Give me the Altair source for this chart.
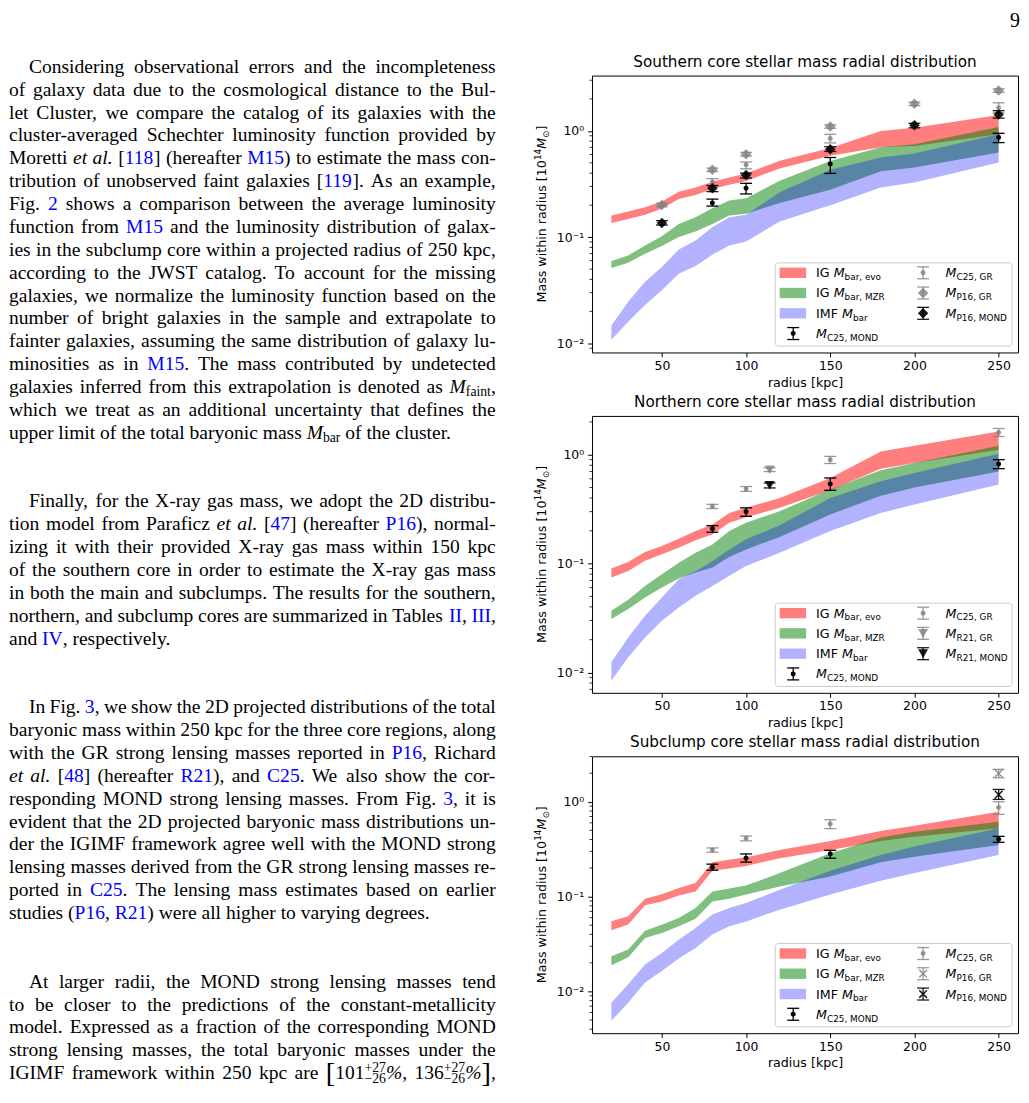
import re
import altair as alt
import pandas as pd

# ---------------- data ----------------
R = [20, 30, 40, 50, 60, 70, 80, 90, 100, 120, 150, 180, 200, 250]

# Southern core bands (10^14 Msun)
S_evo_hi = [0.160, 0.174, 0.191, 0.216, 0.268, 0.294, 0.333, 0.365, 0.398, 0.524, 0.69, 1.00, 1.07, 1.41]
S_evo_lo = [0.136, 0.148, 0.162, 0.185, 0.229, 0.249, 0.284, 0.312, 0.337, 0.443, 0.585, 0.70, 0.72, 0.93]
S_mzr_hi = [0.0596, 0.0673, 0.0835, 0.102, 0.133, 0.154, 0.187, 0.221, 0.232, 0.340, 0.52, 0.70, 0.75, 1.09]
S_mzr_lo = [0.0512, 0.0575, 0.0698, 0.0824, 0.100, 0.113, 0.133, 0.160, 0.166, 0.21, 0.28, 0.416, 0.453, 0.626]
S_imf_hi = [0.0147, 0.0246, 0.0379, 0.0524, 0.0766, 0.093, 0.124, 0.154, 0.162, 0.264, 0.43, 0.562, 0.612, 0.93]
S_imf_lo = [0.0108, 0.016, 0.0229, 0.0316, 0.0453, 0.0535, 0.0683, 0.0835, 0.091, 0.140, 0.20, 0.294, 0.327, 0.505]

S_c25m_x = [80, 100, 150, 250]
S_c25m_y = [0.21, 0.288, 0.487, 0.865]
S_c25m_lo = [0.196, 0.255, 0.398, 0.776]
S_c25m_hi = [0.228, 0.321, 0.562, 0.95]
S_c25g_x = [80, 100, 150, 250]
S_c25g_y = [0.33, 0.48, 0.847, 1.65]
S_c25g_lo = [0.31, 0.44, 0.77, 1.48]
S_c25g_hi = [0.355, 0.51, 0.93, 1.84]
S_p16g_x = [50, 80, 100, 150, 200, 250]
S_p16g_y = [0.201, 0.431, 0.604, 1.10, 1.80, 2.40]
S_p16g_lo = [0.193, 0.415, 0.58, 1.06, 1.73, 2.31]
S_p16g_hi = [0.209, 0.447, 0.628, 1.14, 1.87, 2.49]
S_p16m_x = [50, 80, 100, 150, 200, 250]
S_p16m_y = [0.136, 0.288, 0.384, 0.673, 1.13, 1.43]
S_p16m_lo = [0.13, 0.268, 0.36, 0.64, 1.07, 1.32]
S_p16m_hi = [0.143, 0.305, 0.40, 0.71, 1.18, 1.55]

# Northern core
N_evo_hi = [0.0899, 0.1035, 0.128, 0.145, 0.169, 0.199, 0.229, 0.292, 0.325, 0.401, 0.611, 1.07, 1.21, 1.63]
N_evo_lo = [0.0744, 0.0856, 0.106, 0.122, 0.140, 0.164, 0.185, 0.237, 0.267, 0.325, 0.471, 0.744, 0.839, 1.11]
N_mzr_hi = [0.0369, 0.0465, 0.0624, 0.0798, 0.102, 0.126, 0.150, 0.199, 0.237, 0.303, 0.48, 0.718, 0.839, 1.21]
N_mzr_lo = [0.0309, 0.0382, 0.0488, 0.0603, 0.073, 0.083, 0.092, 0.115, 0.135, 0.175, 0.283, 0.42, 0.50, 0.70]
N_imf_hi = [0.0124, 0.021, 0.0332, 0.0488, 0.0718, 0.085, 0.105, 0.135, 0.167, 0.225, 0.40, 0.57, 0.68, 1.02]
N_imf_lo = [0.0084, 0.0138, 0.021, 0.0299, 0.0395, 0.0506, 0.0624, 0.0771, 0.095, 0.126, 0.199, 0.292, 0.349, 0.531]

N_c25m_x = [80, 100, 150, 250]
N_c25m_y = [0.209, 0.299, 0.539, 0.822]
N_c25m_lo = [0.194, 0.272, 0.471, 0.744]
N_c25m_hi = [0.223, 0.325, 0.611, 0.90]
N_c25g_x = [80, 100, 150, 250]
N_c25g_y = [0.336, 0.485, 0.90, 1.60]
N_c25g_lo = [0.32, 0.46, 0.83, 1.47]
N_c25g_hi = [0.35, 0.51, 0.965, 1.74]
N_r21g_x = [114]
N_r21g_y = [0.728]
N_r21g_lo = [0.70]
N_r21g_hi = [0.76]
N_r21m_x = [114]
N_r21m_y = [0.524]
N_r21m_lo = [0.495]
N_r21m_hi = [0.55]

# Subclump core
C_evo_hi = [0.055, 0.062, 0.095, 0.106, 0.123, 0.139, 0.231, 0.245, 0.26, 0.31, 0.386, 0.492, 0.56, 0.785]
C_evo_lo = [0.0442, 0.0507, 0.081, 0.089, 0.103, 0.1135, 0.187, 0.198, 0.211, 0.254, 0.31, 0.386, 0.429, 0.525]
C_mzr_hi = [0.0235, 0.0277, 0.0438, 0.0506, 0.0595, 0.0759, 0.1135, 0.122, 0.131, 0.177, 0.287, 0.419, 0.484, 0.616]
C_mzr_lo = [0.0189, 0.023, 0.0367, 0.0414, 0.0487, 0.0586, 0.089, 0.095, 0.105, 0.128, 0.163, 0.231, 0.264, 0.351]
C_imf_hi = [0.0076, 0.0119, 0.0192, 0.0255, 0.0352, 0.0467, 0.0646, 0.0758, 0.0855, 0.118, 0.187, 0.275, 0.337, 0.525]
C_imf_lo = [0.0049, 0.0076, 0.0124, 0.0164, 0.0222, 0.0288, 0.0398, 0.0486, 0.0548, 0.0728, 0.105, 0.147, 0.177, 0.275]

C_c25m_x = [80, 100, 150, 250]
C_c25m_y = [0.204, 0.254, 0.282, 0.402]
C_c25m_lo = [0.19, 0.231, 0.254, 0.374]
C_c25m_hi = [0.22, 0.282, 0.308, 0.432]
C_c25g_x = [80, 100, 150, 250]
C_c25g_y = [0.311, 0.412, 0.583, 0.873]
C_c25g_lo = [0.294, 0.387, 0.521, 0.737]
C_c25g_hi = [0.326, 0.436, 0.647, 1.0]
C_p16g_x = [250]
C_p16g_y = [1.99]
C_p16g_lo = [1.79]
C_p16g_hi = [2.2]
C_p16m_x = [250]
C_p16m_y = [1.19]
C_p16m_lo = [1.06]
C_p16m_hi = [1.35]

X_TICKS = [50, 100, 150, 200, 250]
Y_TICKS = [0.01, 0.1, 1]
MINOR_S = [0.009, 0.02, 0.03, 0.04, 0.05, 0.06, 0.07, 0.08, 0.09, 0.2, 0.3, 0.4, 0.5, 0.6, 0.7, 0.8, 0.9, 2, 3]
MINOR_N = [0.007, 0.008, 0.009, 0.02, 0.03, 0.04, 0.05, 0.06, 0.07, 0.08, 0.09, 0.2, 0.3, 0.4, 0.5, 0.6, 0.7, 0.8, 0.9, 2]
MINOR_C = [0.004, 0.005, 0.006, 0.007, 0.008, 0.009, 0.02, 0.03, 0.04, 0.05, 0.06, 0.07, 0.08, 0.09,
           0.2, 0.3, 0.4, 0.5, 0.6, 0.7, 0.8, 0.9, 2, 3]

TITLES = ["Southern core stellar mass radial distribution",
          "Northern core stellar mass radial distribution",
          "Subclump core stellar mass radial distribution"]

# ---------------- page text (left column) ----------------
TEXT_LINES = {
    0: "Considering observational errors and the incompleteness",
    1: "of galaxy data due to the cosmological distance to the Bul-",
    2: "let Cluster, we compare the catalog of its galaxies with the",
    3: "cluster-averaged Schechter luminosity function provided by",
    4: "Moretti {i:et al.} [{b:118}] (hereafter {b:M15}) to estimate the mass con-",
    5: "tribution of unobserved faint galaxies [{b:119}]. As an example,",
    6: "Fig. {b:2} shows a comparison between the average luminosity",
    7: "function from {b:M15} and the luminosity distribution of galax-",
    8: "ies in the subclump core within a projected radius of 250 kpc,",
    9: "according to the JWST catalog. To account for the missing",
    10: "galaxies, we normalize the luminosity function based on the",
    11: "number of bright galaxies in the sample and extrapolate to",
    12: "fainter galaxies, assuming the same distribution of galaxy lu-",
    13: "minosities as in {b:M15}. The mass contributed by undetected",
    14: "galaxies inferred from this extrapolation is denoted as {i:M}{s:faint},",
    15: "which we treat as an additional uncertainty that defines the",
    16: "upper limit of the total baryonic mass {i:M}{s:bar} of the cluster.",
    19: "Finally, for the X-ray gas mass, we adopt the 2D distribu-",
    20: "tion model from Paraficz {i:et al.} [{b:47}] (hereafter {b:P16}), normal-",
    21: "izing it with their provided X-ray gas mass within 150 kpc",
    22: "of the southern core in order to estimate the X-ray gas mass",
    23: "in both the main and subclumps. The results for the southern,",
    24: "northern, and subclump cores are summarized in Tables {b:II}, {b:III},",
    25: "and {b:IV}, respectively.",
    28: "In Fig. {b:3}, we show the 2D projected distributions of the total",
    29: "baryonic mass within 250 kpc for the three core regions, along",
    30: "with the GR strong lensing masses reported in {b:P16}, Richard",
    31: "{i:et al.} [{b:48}] (hereafter {b:R21}), and {b:C25}. We also show the cor-",
    32: "responding MOND strong lensing masses. From Fig. {b:3}, it is",
    33: "evident that the 2D projected baryonic mass distributions un-",
    34: "der the IGIMF framework agree well with the MOND strong",
    35: "lensing masses derived from the GR strong lensing masses re-",
    36: "ported in {b:C25}. The lensing mass estimates based on earlier",
    37: "studies ({b:P16}, {b:R21}) were all higher to varying degrees.",
    40: "At larger radii, the MOND strong lensing masses tend",
    41: "to be closer to the predictions of the constant-metallicity",
    42: "model. Expressed as a fraction of the corresponding MOND",
    43: "strong lensing masses, the total baryonic masses under the",
    44: "IGIMF framework within 250 kpc are {L:[}101{ss:+27|\u221226}{i:%}, 136{ss:+27|\u221226}{i:%}{L:]},",
}
INDENTED = {0, 19, 28, 40}
LAST_LINES = {16, 25, 37}
PAGE_NUMBER = "9"

# ---------------- font metrics (for text placement) ----------------
TIMES = dict(zip("abcdefghijklmnopqrstuvwxyz",
                 [444, 500, 444, 500, 444, 333, 500, 500, 278, 278, 500, 278, 778, 500, 500, 500, 500, 333,
                  389, 278, 500, 500, 722, 500, 500, 444]))
TIMES.update(zip("ABCDEFGHIJKLMNOPQRSTUVWXYZ",
                 [722, 667, 667, 722, 611, 556, 722, 722, 333, 389, 722, 611, 889, 722, 722, 556, 722, 667,
                  556, 611, 722, 722, 944, 722, 722, 611]))
TIMES.update({d: 500 for d in "0123456789"})
TIMES.update({" ": 250, ",": 250, ".": 250, "-": 333, "(": 333, ")": 333, "[": 333, "]": 333,
              "%": 833, "+": 564, "\u2212": 564, ":": 278, ";": 278})
TIMES_I = dict(TIMES)
TIMES_I.update({"a": 500, "M": 833, "k": 444, "r": 389, "v": 444, "w": 667, "y": 444, "f": 278})

DJV = dict(zip("abcdefghijklmnopqrstuvwxyz",
               [613, 635, 550, 635, 615, 352, 635, 634, 278, 278, 579, 278, 974, 634, 612, 635, 635, 411,
                521, 392, 634, 592, 818, 592, 592, 525]))
DJV.update(zip("ABCDEFGHIJKLMNOPQRSTUVWXYZ",
               [684, 686, 698, 770, 632, 575, 775, 752, 295, 295, 656, 557, 863, 748, 787, 603, 787, 695,
                635, 611, 732, 684, 989, 685, 611, 685]))
DJV.update({d: 636 for d in "0123456789"})
DJV.update({" ": 318, ",": 318, ".": 318, "[": 390, "]": 390, "\u2299": 838})

FONT_S = "DejaVu Sans"
FONT_T = "Liberation Serif"

# ---------------- text column ----------------
FS_T = 19.6
PITCH = 22.96
TW = 490
TH = 1078
LINE_W = 488.7
INDENT = 20
BASE0 = 62.0  # baseline of first line inside the text view


def tw(txt, table, fs):
    return sum(table.get(c, 500) for c in txt) * fs / 1000.0


def parse(line):
    segs = []
    for tok in re.split(r"(\{\w+:[^}]*\})", line):
        if not tok:
            continue
        m = re.fullmatch(r"\{(\w+):([^}]*)\}", tok)
        if m:
            segs.append((m.group(2), m.group(1)))
        else:
            segs.append((tok, "n"))
    words, cur = [], []
    for txt, st in segs:
        parts = txt.split(" ")
        for k, p in enumerate(parts):
            if k > 0:
                if cur:
                    words.append(cur)
                cur = []
            if p:
                cur.append((p, st))
    if cur:
        words.append(cur)
    return words


def piece_w(txt, st):
    if st in ("n", "b"):
        return tw(txt, TIMES, FS_T)
    if st == "i":
        return tw(txt, TIMES_I, FS_T)
    if st == "s":
        return tw(txt, TIMES, 0.7 * FS_T)
    if st == "ss":
        a, b = txt.split("|")
        return max(tw(a, TIMES, 0.7 * FS_T), tw(b, TIMES, 0.7 * FS_T))
    if st == "L":
        return tw(txt, TIMES, 1.45 * FS_T)
    return tw(txt, TIMES, FS_T)


rows_n, rows_i = [], []
for li, line in TEXT_LINES.items():
    words = parse(line)
    x0 = INDENT if li in INDENTED else 0
    widths = [sum(piece_w(t, s) for t, s in w) for w in words]
    if li in LAST_LINES or len(words) < 2:
        gap = 0.25 * FS_T
    else:
        gap = (LINE_W - x0 - sum(widths)) / (len(words) - 1)
    x = x0
    for w, ww in zip(words, widths):
        px = x
        for t, s in w:
            if s == "ss":
                a, b = t.split("|")
                rows_n.append(dict(x=px, y=li - 7.2 / PITCH, t=a, fs=0.7 * FS_T, c="black"))
                rows_n.append(dict(x=px, y=li + 4.0 / PITCH, t=b, fs=0.7 * FS_T, c="black"))
            elif s == "s":
                rows_n.append(dict(x=px, y=li + 3.2 / PITCH, t=t, fs=0.7 * FS_T, c="black"))
            elif s == "L":
                rows_n.append(dict(x=px, y=li + 2.6 / PITCH, t=t, fs=1.45 * FS_T, c="black"))
            elif s == "i":
                rows_i.append(dict(x=px, y=li, t=t, fs=FS_T, c="black"))
            elif s == "b":
                rows_n.append(dict(x=px, y=li, t=t, fs=FS_T, c="#0000ff"))
            else:
                rows_n.append(dict(x=px, y=li, t=t, fs=FS_T, c="black"))
            px += piece_w(t, s)
        x += ww + gap

TX = alt.Scale(domain=[0, TW], range=[0, TW], nice=False, zero=False)
Y0 = -BASE0 / PITCH
TY = alt.Scale(domain=[Y0, Y0 + TH / PITCH], range=[0, TH], nice=False, zero=False)


def text_layer(rows, style):
    return alt.Chart(pd.DataFrame(rows)).mark_text(
        align="left", baseline="alphabetic", font=FONT_T, fontStyle=style
    ).encode(
        x=alt.X("x:Q", scale=TX, axis=None),
        y=alt.Y("y:Q", scale=TY, axis=None),
        text="t:N",
        size=alt.Size("fs:Q", scale=None, legend=None),
        color=alt.Color("c:N", scale=None, legend=None),
    )


text_chart = alt.layer(text_layer(rows_n, "normal"), text_layer(rows_i, "italic")).properties(
    width=TW, height=TH)

# ---------------- panels ----------------
PW, PH = 427.7, 278
XS = alt.Scale(domain=[8.5, 261.5], nice=False, zero=False)
AX = alt.Scale(domain=[0, PW], range=[0, PW], nice=False, zero=False)
AY = alt.Scale(domain=[0, PH], range=[0, PH], nice=False, zero=False)

X_AXIS = alt.Axis(values=X_TICKS, title="radius [kpc]", format="d", grid=False, domain=False,
                  tickSize=4.4, tickColor="black", tickWidth=1, labelFont=FONT_S, labelFontSize=12.5,
                  labelColor="black", labelPadding=2.7, labelFlush=False, labelOverlap=False,
                  titleFont=FONT_S, titleFontSize=12.7, titleFontWeight="normal", titleColor="black",
                  titlePadding=4.3)
Y_AXIS = alt.Axis(values=Y_TICKS, title=None, grid=False, domain=False, tickSize=4.4, tickColor="black",
                  tickWidth=1, labelFont=FONT_S, labelFontSize=12.5, labelColor="black", labelPadding=3.9,
                  labelFlush=False, labelOverlap=False,
                  labelExpr="datum.value >= 0.5 ? '10\u2070' : datum.value >= 0.05 ? '10\u207b\u00b9' : '10\u207b\u00b2'")

LEG_ROWS = [198, 218.3, 238.7, 259]
X_PATH = "M-1,-1L1,1M-1,1L1,-1"


def err_group(x, y, lo, hi, color, op, shape, size, filled, ys):
    df = pd.DataFrame({"r": x, "v": y, "lo": lo, "hi": hi})
    base = alt.Chart(df)
    X = alt.X("r:Q", scale=XS, axis=X_AXIS)
    out = [
        base.mark_rule(color=color, opacity=op, strokeWidth=1.3).encode(
            x=X, y=alt.Y("lo:Q", scale=ys, axis=Y_AXIS), y2="hi:Q"),
        base.mark_tick(orient="horizontal", size=12, thickness=1.3, color=color, opacity=op).encode(
            x=X, y=alt.Y("lo:Q", scale=ys, axis=Y_AXIS)),
        base.mark_tick(orient="horizontal", size=12, thickness=1.3, color=color, opacity=op).encode(
            x=X, y=alt.Y("hi:Q", scale=ys, axis=Y_AXIS)),
    ]
    if filled:
        pt = base.mark_point(shape=shape, size=size, filled=True, color=color, opacity=op, strokeWidth=0)
    else:
        pt = base.mark_point(shape=shape, size=size, filled=False, color=color, opacity=op, strokeWidth=1.5)
    out.append(pt.encode(x=X, y=alt.Y("v:Q", scale=ys, axis=Y_AXIS)))
    return out


def icon(x, y, color, op, shape, size, filled):
    df = pd.DataFrame({"px": [x], "py": [y], "py1": [y - 6], "py2": [y + 6], "px1": [x - 6], "px2": [x + 6]})
    b = alt.Chart(df)
    out = [
        b.mark_rule(color=color, opacity=op, strokeWidth=1.3).encode(
            x=alt.X("px:Q", scale=AX, axis=None), y=alt.Y("py1:Q", scale=AY, axis=None), y2="py2:Q"),
        b.mark_rule(color=color, opacity=op, strokeWidth=1.3).encode(
            x=alt.X("px1:Q", scale=AX, axis=None), x2="px2:Q", y=alt.Y("py1:Q", scale=AY, axis=None)),
        b.mark_rule(color=color, opacity=op, strokeWidth=1.3).encode(
            x=alt.X("px1:Q", scale=AX, axis=None), x2="px2:Q", y=alt.Y("py2:Q", scale=AY, axis=None)),
    ]
    if filled:
        pt = b.mark_point(shape=shape, size=size, filled=True, color=color, opacity=op, strokeWidth=0)
    else:
        pt = b.mark_point(shape=shape, size=size, filled=False, color=color, opacity=op, strokeWidth=1.5)
    out.append(pt.encode(x=alt.X("px:Q", scale=AX, axis=None), y=alt.Y("py:Q", scale=AY, axis=None)))
    return out


def label_pieces(x0, yrow, parts):
    out = []
    x = x0
    base = yrow + 4.5
    for txt, st in parts:
        if st == "s":
            fs, y, sty = 8.9, base + 2.8, "normal"
        elif st == "i":
            fs, y, sty = 12.7, base, "italic"
        else:
            fs, y, sty = 12.7, base, "normal"
        out.append(dict(px=x, py=y, t=txt, fs=fs, st=sty))
        x += tw(txt, DJV, fs)
    return out


def ytitle_pieces():
    parts = [("Mass within radius [10", "n"), ("14", "sup"), ("M", "i"), ("\u2299", "s"), ("]", "n")]
    sizes = {"n": 12.7, "i": 12.7, "sup": 8.9, "s": 8.9}
    total = sum(tw(t, DJV, sizes[s]) for t, s in parts)
    start = PH / 2 + total / 2
    bx = -46.0
    out, off = [], 0.0
    for t, s in parts:
        dx = -5.0 if s == "sup" else (2.5 if s == "s" else 0.0)
        out.append(dict(px=bx + dx, py=start - off, t=t, fs=sizes[s], st="italic" if s == "i" else "normal"))
        off += tw(t, DJV, sizes[s])
    return out


def annot_text(rows, style, angle):
    return alt.Chart(pd.DataFrame(rows)).mark_text(
        align="left", baseline="alphabetic", font=FONT_S, fontStyle=style, angle=angle, color="black"
    ).encode(
        x=alt.X("px:Q", scale=AX, axis=None),
        y=alt.Y("py:Q", scale=AY, axis=None),
        text="t:N",
        size=alt.Size("fs:Q", scale=None, legend=None),
    )


def make_panel(title, evo, mzr, imf, groups, ydom, minor, gr_lab, mond_lab, gr_shape, gr_size, gr_filled):
    ys = alt.Scale(type="log", domain=ydom, nice=False)
    X = alt.X("r:Q", scale=XS, axis=X_AXIS)
    data_layers = []
    for (lo, hi), col, op in [(evo, "red", 0.5), (mzr, "green", 0.5), (imf, "blue", 0.3)]:
        df = pd.DataFrame({"r": R, "lo": lo, "hi": hi})
        data_layers.append(alt.Chart(df).mark_area(color=col, opacity=op).encode(
            x=X, y=alt.Y("lo:Q", scale=ys, axis=Y_AXIS), y2="hi:Q"))
    data_layers.append(alt.Chart(pd.DataFrame({"v": minor})).mark_rule(color="black", strokeWidth=0.8).encode(
        y=alt.Y("v:Q", scale=ys, axis=Y_AXIS), x=alt.value(0), x2=alt.value(-2.5)))
    for g in groups:
        data_layers += err_group(*g, ys=ys)
    data = alt.layer(*data_layers)

    # legend and rotated y title
    box = alt.Chart(pd.DataFrame({"a": [184], "b": [421.7], "c": [188], "d": [271.6]})).mark_rect(
        fill="white", fillOpacity=0.8, stroke="#cccccc", strokeWidth=1, cornerRadius=3).encode(
        x=alt.X("a:Q", scale=AX, axis=None), x2="b:Q", y=alt.Y("c:Q", scale=AY, axis=None), y2="d:Q")
    ann = [box]
    for row, col, op in [(LEG_ROWS[0], "red", 0.5), (LEG_ROWS[1], "green", 0.5), (LEG_ROWS[2], "blue", 0.3)]:
        ann.append(alt.Chart(pd.DataFrame({"a": [188.4], "b": [215], "c": [row - 5.2], "d": [row + 5.2]})).mark_rect(
            color=col, opacity=op).encode(
            x=alt.X("a:Q", scale=AX, axis=None), x2="b:Q", y=alt.Y("c:Q", scale=AY, axis=None), y2="d:Q"))
    ann += icon(202, LEG_ROWS[3], "black", 1.0, "circle", 25, True)
    ann += icon(332.4, LEG_ROWS[0], "gray", 0.8, "circle", 25, True)
    ann += icon(332.4, LEG_ROWS[1], "gray", 0.8, gr_shape, gr_size, gr_filled)
    ann += icon(332.4, LEG_ROWS[2], "black", 0.9, gr_shape, gr_size, gr_filled)
    labs = []
    labs += label_pieces(225, LEG_ROWS[0], [("IG ", "n"), ("M", "i"), ("bar, evo", "s")])
    labs += label_pieces(225, LEG_ROWS[1], [("IG ", "n"), ("M", "i"), ("bar, MZR", "s")])
    labs += label_pieces(225, LEG_ROWS[2], [("IMF ", "n"), ("M", "i"), ("bar", "s")])
    labs += label_pieces(225, LEG_ROWS[3], [("M", "i"), ("C25, MOND", "s")])
    labs += label_pieces(355, LEG_ROWS[0], [("M", "i"), ("C25, GR", "s")])
    labs += label_pieces(355, LEG_ROWS[1], [("M", "i"), (gr_lab, "s")])
    labs += label_pieces(355, LEG_ROWS[2], [("M", "i"), (mond_lab, "s")])
    ann.append(annot_text([r for r in labs if r["st"] == "normal"], "normal", 0))
    ann.append(annot_text([r for r in labs if r["st"] == "italic"], "italic", 0))
    yt = ytitle_pieces()
    ann.append(annot_text([r for r in yt if r["st"] == "normal"], "normal", 270))
    ann.append(annot_text([r for r in yt if r["st"] == "italic"], "italic", 270))
    annot = alt.layer(*ann)

    return alt.layer(data, annot).resolve_scale(x="independent", y="independent").properties(
        width=PW, height=PH,
        title=alt.TitleParams(title, font=FONT_S, fontSize=15.3, fontWeight="normal", color="black",
                              anchor="middle", baseline="alphabetic", offset=-6.6),
        view=alt.ViewBackground(stroke="black", strokeWidth=1),
    )


DIAMOND, TRI = "diamond", "triangle-down"

p1 = make_panel(
    TITLES[0], (S_evo_lo, S_evo_hi), (S_mzr_lo, S_mzr_hi), (S_imf_lo, S_imf_hi),
    [
        (S_c25g_x, S_c25g_y, S_c25g_lo, S_c25g_hi, "gray", 0.8, "circle", 25, True),
        (S_p16g_x, S_p16g_y, S_p16g_lo, S_p16g_hi, "gray", 0.8, DIAMOND, 110, True),
        (S_c25m_x, S_c25m_y, S_c25m_lo, S_c25m_hi, "black", 1.0, "circle", 25, True),
        (S_p16m_x, S_p16m_y, S_p16m_lo, S_p16m_hi, "black", 0.9, DIAMOND, 110, True),
    ],
    [0.0082, 3.32], MINOR_S, "P16, GR", "P16, MOND", DIAMOND, 110, True)

p2 = make_panel(
    TITLES[1], (N_evo_lo, N_evo_hi), (N_mzr_lo, N_mzr_hi), (N_imf_lo, N_imf_hi),
    [
        (N_c25g_x, N_c25g_y, N_c25g_lo, N_c25g_hi, "gray", 0.8, "circle", 25, True),
        (N_r21g_x, N_r21g_y, N_r21g_lo, N_r21g_hi, "gray", 0.8, TRI, 100, True),
        (N_c25m_x, N_c25m_y, N_c25m_lo, N_c25m_hi, "black", 1.0, "circle", 25, True),
        (N_r21m_x, N_r21m_y, N_r21m_lo, N_r21m_hi, "black", 0.9, TRI, 100, True),
    ],
    [0.0065, 2.27], MINOR_N, "R21, GR", "R21, MOND", TRI, 100, True)

p3 = make_panel(
    TITLES[2], (C_evo_lo, C_evo_hi), (C_mzr_lo, C_mzr_hi), (C_imf_lo, C_imf_hi),
    [
        (C_c25g_x, C_c25g_y, C_c25g_lo, C_c25g_hi, "gray", 0.8, "circle", 25, True),
        (C_p16g_x, C_p16g_y, C_p16g_lo, C_p16g_hi, "gray", 0.8, X_PATH, 60, False),
        (C_c25m_x, C_c25m_y, C_c25m_lo, C_c25m_hi, "black", 1.0, "circle", 25, True),
        (C_p16m_x, C_p16m_y, C_p16m_lo, C_p16m_hi, "black", 0.9, X_PATH, 60, False),
    ],
    [0.00363, 3.02], MINOR_C, "P16, GR", "P16, MOND", X_PATH, 60, False)

# page-number strip above the panels
row0 = alt.Chart(pd.DataFrame({"t": [PAGE_NUMBER], "px": [429.7], "py": [16.3]})).mark_text(
    align="right", baseline="alphabetic", font=FONT_T, fontSize=20, color="black").encode(
    x=alt.X("px:Q", scale=AX, axis=None),
    y=alt.Y("py:Q", scale=alt.Scale(domain=[0, 1], range=[0, 1], nice=False, zero=False), axis=None),
    text="t:N").properties(width=PW, height=1)

right = alt.vconcat(row0, p1, p2, p3, spacing=63.7, bounds="flush")
chart = alt.hconcat(text_chart, right, spacing=95.3, bounds="flush").properties(
    padding=0, background="white").configure_view(stroke="transparent")

chart.save("out.html", embed_options={"renderer": "svg", "actions": False})
